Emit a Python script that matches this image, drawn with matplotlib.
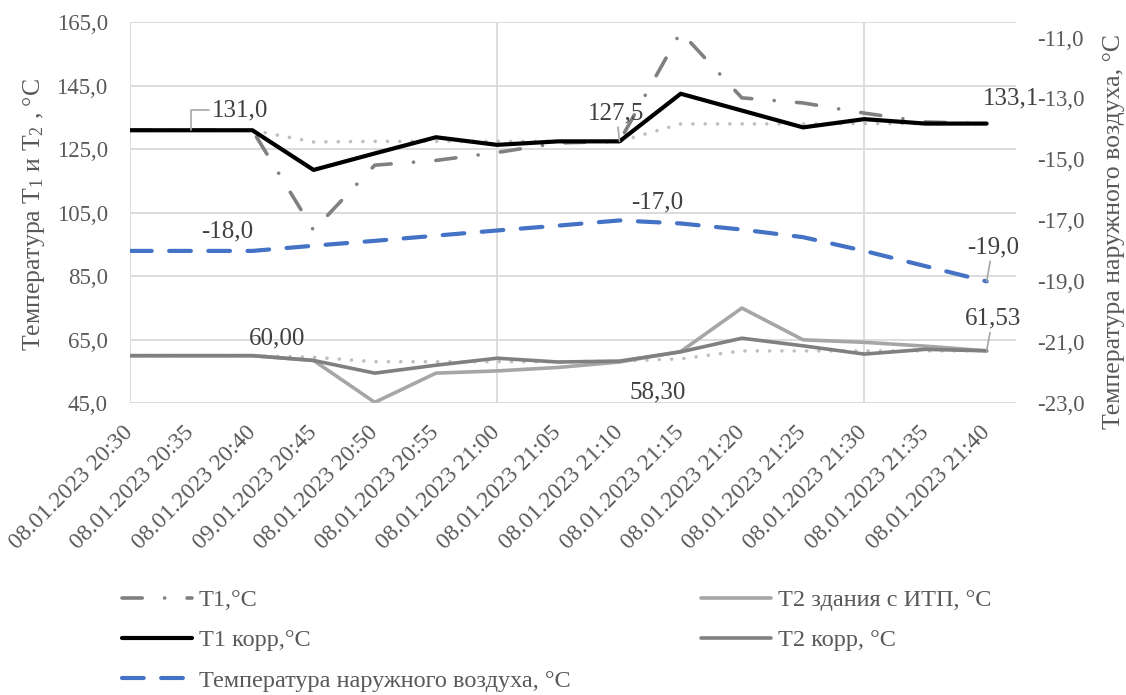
import matplotlib
matplotlib.use("Agg")
import matplotlib.pyplot as plt

plt.rcParams['font.family'] = ['Liberation Serif', 'DejaVu Serif']
plt.rcParams['mathtext.fontset'] = 'custom'
plt.rcParams['mathtext.rm'] = 'Liberation Serif'
plt.rcParams['mathtext.it'] = 'Liberation Serif:italic'

# Time stamps of the measurements
times = ["08.01.2023 20:30", "08.01.2023 20:35", "08.01.2023 20:40", "09.01.2023 20:45",
         "08.01.2023 20:50", "08.01.2023 20:55", "08.01.2023 21:00", "08.01.2023 21:05",
         "08.01.2023 21:10", "08.01.2023 21:15", "08.01.2023 21:20", "08.01.2023 21:25",
         "08.01.2023 21:30", "08.01.2023 21:35", "08.01.2023 21:40"]

# Supply temperature T1 as measured
t1 = [131.0, 131.0, 131.0, 99.5, 120.0, 121.5, 124.0, 127.0, 127.5, 162.0, 141.2, 139.6, 136.4, 133.6, 133.1]
# Supply temperature T1 corrected
t1_corr = [131.0, 131.0, 131.0, 118.5, 123.7, 128.8, 126.4, 127.5, 127.5, 142.5, 137.2, 131.9, 134.5, 133.1, 133.1]
# Reference supply temperature (schedule)
t1_ref = [131.0, 131.0, 131.0, 127.3, 127.5, 127.5, 127.5, 127.5, 127.5, 133.0, 133.0, 133.0, 133.1, 133.1, 133.1]

# Return temperature of the building with the substation
t2_itp = [60.0, 60.0, 60.0, 58.5, 45.3, 54.5, 55.2, 56.3, 58.0, 61.3, 75.0, 65.0, 64.2, 63.0, 61.53]
# Return temperature corrected
t2_corr = [60.0, 60.0, 60.0, 58.5, 54.5, 57.0, 59.2, 58.0, 58.3, 61.2, 65.5, 63.1, 60.5, 62.0, 61.53]
# Reference return temperature (schedule)
t2_ref = [60.0, 60.0, 60.0, 59.5, 58.1, 58.1, 58.1, 58.1, 58.3, 59.0, 61.5, 61.5, 61.5, 61.5, 61.53]

# Outdoor air temperature (right axis)
t_out = [-18.0, -18.0, -18.0, -17.83, -17.67, -17.5, -17.33, -17.17, -17.0, -17.1, -17.3, -17.55, -18.0, -18.5, -19.0]

left_ticks = [45.0, 65.0, 85.0, 105.0, 125.0, 145.0, 165.0]
right_ticks = [-23.0, -21.0, -19.0, -17.0, -15.0, -13.0, -11.0]

x = list(range(len(times)))

fig = plt.figure(figsize=(11.26, 6.95), dpi=100)
ax = fig.add_axes([130 / 1126, 1 - 403.3 / 695, (1016 - 130) / 1126, (403.3 - 22.3) / 695])
ax2 = ax.twinx()

FS_TICK = 16.5
FS_X = 17
FS_DATA = 18
FS_TITLE = 18.5
FS_LEG = 17.5
tick_col = '#595959'
lab_col = '#404040'
grid_col = '#d9d9d9'

# Grid
for v in left_ticks:
    ax.axhline(v, color=grid_col, lw=1.3, zorder=0)
for i in (0, 6, 12):
    ax.axvline(i, color=grid_col, lw=1.3, zorder=0)

dot_style = (0, (0.01, 3.4))
dashdot_style = (0, (5.6, 6.2, 0.01, 6.2))

ax.plot(x, t1_ref, color='#bfbfbf', lw=2.6, ls=dot_style, dash_capstyle='round', zorder=2)
ax.plot(x, t2_ref, color='#bfbfbf', lw=2.6, ls=dot_style, dash_capstyle='round', zorder=2)
l_t1, = ax.plot(x, t1, color='#808080', lw=2.6, ls=dashdot_style, dash_capstyle='round', zorder=3,
                label='T1,°C')
l_t1c, = ax.plot(x, t1_corr, color='black', lw=3.0, solid_capstyle='round', zorder=4,
                 label='T1 корр,°C')
l_t2i, = ax.plot(x, t2_itp, color='#a6a6a6', lw=2.6, solid_capstyle='round', zorder=3,
                 label='T2 здания с ИТП, °C')
l_t2c, = ax.plot(x, t2_corr, color='#808080', lw=2.6, solid_capstyle='round', zorder=4,
                 label='T2 корр, °C')
l_out, = ax2.plot(x, t_out, color='#4472c4', lw=3.0, ls=(0, (5.2, 4.2)), dash_capstyle='round',
                  label='Температура наружного воздуха, °C')

ax.set_xlim(0, 14.48)
ax.set_ylim(45, 165)
ax2.set_ylim(-23, -10.5)
ax.set_yticks(left_ticks)
ax.set_yticklabels([f"{v:.1f}".replace('.', ',') for v in left_ticks])
ax2.set_yticks(right_ticks)
ax2.set_yticklabels([f"{v:.1f}".replace('.', ',') for v in right_ticks])

for a in (ax, ax2):
    for s in a.spines.values():
        s.set_visible(False)
ax.tick_params(axis='y', length=0, pad=16, labelsize=FS_TICK, labelcolor=tick_col)
ax2.tick_params(axis='y', length=0, pad=15, labelsize=FS_TICK, labelcolor=tick_col)
ax.tick_params(axis='x', length=0, pad=19, labelsize=FS_X, labelcolor=tick_col)
ax.set_xticks(x)
ax.set_xticklabels(times, rotation=45, ha='right', va='center', rotation_mode='anchor')

ax.set_ylabel('Температура T$_1$ и T$_2$ , °C', fontsize=FS_TITLE, color=tick_col)
ax.yaxis.set_label_coords(-0.094, 0.495)
ax2.set_ylabel('Температура наружного воздуха, °C', fontsize=FS_TITLE, color=tick_col)
ax2.yaxis.set_label_coords(1.098, 0.45)


def fmt1(v):
    return f"{v:.1f}".replace('.', ',')


def fmt2(v):
    return f"{v:.2f}".replace('.', ',')


def label(a, i, series, text, dx, dy, lead=None):
    kw = dict(textcoords='offset pixels', ha='center', va='center', fontsize=FS_DATA, color=lab_col,
              zorder=6)
    if lead is not None:
        kw['arrowprops'] = dict(arrowstyle='-', color='#a6a6a6', lw=1.2, shrinkA=0, shrinkB=0, **lead)
    a.annotate(text, xy=(i, series[i]), xytext=(dx, dy), **kw)


straight = {}
elbow = dict(connectionstyle='angle,angleA=0,angleB=90,rad=0', relpos=(0.0, 0.5))

label(ax, 1, t1_corr, fmt1(t1_corr[1]), 49, 20, lead=elbow)
label(ax, 8, t1_corr, fmt1(t1_corr[8]), -3, 28, lead=straight)
label(ax, 14, t1_corr, fmt1(t1_corr[14]), 24, 25)
label(ax2, 1, t_out, fmt1(t_out[1]), 36, 19)
label(ax2, 8, t_out, fmt1(t_out[8]), 38, 18)
label(ax2, 14, t_out, fmt1(t_out[14]), 6, 34, lead=straight)
label(ax, 2, t2_corr, fmt2(t2_corr[2]), 25, 17)
label(ax, 8, t2_corr, fmt2(t2_corr[8]), 38, -31)
label(ax, 14, t2_corr, fmt2(t2_corr[14]), 6, 32, lead=straight)

# Legend in two columns below the chart
leg_kw = dict(loc='upper left', frameon=False, fontsize=FS_LEG, handlelength=2.9,
              handletextpad=0.25, labelspacing=0.75, labelcolor=tick_col,
              borderpad=0, borderaxespad=0)
fig.legend(handles=[l_t1, l_t1c, l_out], bbox_to_anchor=(122 / 1126, 1 - 589 / 695), **leg_kw)
fig.legend(handles=[l_t2i, l_t2c], bbox_to_anchor=(701 / 1126, 1 - 589 / 695), **leg_kw)

fig.savefig('out.png', dpi=100)
